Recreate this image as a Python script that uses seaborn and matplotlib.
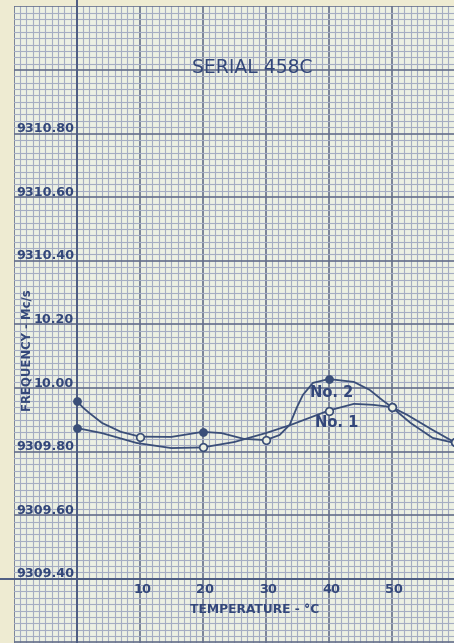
import numpy as np
import pandas as pd
import matplotlib
matplotlib.use("Agg")
import matplotlib.pyplot as plt
import seaborn as sns
from matplotlib.patches import Rectangle

# ---------------- data ----------------
# hand-drawn smooth curves
no1_curve_temp = [0, 4, 9.5, 15, 20, 25, 30, 34, 40, 44, 47, 50, 52.5, 56.5, 60]
no1_curve_freq = [9309.874, 9309.858, 9309.827, 9309.811, 9309.813, 9309.830,
                  9309.858, 9309.884, 9309.929, 9309.950, 9309.947, 9309.940,
                  9309.915, 9309.868, 9309.829]

no2_curve_temp = [0, 1, 2, 4, 7, 10, 15, 20, 23, 26.5, 30, 32.2, 33.8, 34.9, 35.9,
                  37.5, 40, 44, 46.5, 48.5, 50, 53, 56.5, 60]
no2_curve_freq = [9309.959, 9309.938, 9309.921, 9309.890, 9309.862, 9309.847,
                  9309.846, 9309.862, 9309.858, 9309.840, 9309.836, 9309.852,
                  9309.884, 9309.937, 9309.978, 9310.016, 9310.028, 9310.019,
                  9309.994, 9309.962, 9309.940, 9309.890, 9309.843, 9309.827]

# measured points
no1_point_temp = [0, 20, 40, 50, 60]
no1_point_freq = [9309.874, 9309.813, 9309.929, 9309.940, 9309.829]
no1_point_filled = [True, False, False, False, False]

no2_point_temp = [0, 10, 20, 30, 40, 50, 60]
no2_point_freq = [9309.959, 9309.847, 9309.862, 9309.836, 9310.028, 9309.940, 9309.829]
no2_point_filled = [True, False, True, False, True, False, False]

y_tick_values = [9310.80, 9310.60, 9310.40, 9310.20, 9310.00, 9309.80, 9309.60, 9309.40]
y_tick_labels = ["9310.80", "9310.60", "9310.40", "10.20", "10.00",
                 "9309.80", "9309.60", "9309.40"]
x_tick_values = [10, 20, 30, 40, 50]
x_tick_labels = ["10", "20", "30", "40", "50"]

title_text = "SERIAL 458C"
x_label = "TEMPERATURE - °C"
y_label = "FREQUENCY - Mc/s"
series_labels = ["No. 1", "No. 2"]

# ---------------- style ----------------
INK = "#33477a"
LINE = "#3a4e78"
PAPER = "#ecf0e3"
MARGIN = "#eeebd2"
MINOR = "#a5adc3"
MAJOR = "#66708c"

sns.set_theme(style="white")
plt.rcParams["font.family"] = ["DejaVu Sans"]

fig = plt.figure(figsize=(4.54, 6.43), dpi=100)
fig.patch.set_facecolor(MARGIN)
ax = fig.add_axes([0, 0, 1, 1])
ax.set_facecolor(MARGIN)

X0, X1 = -12.2, 59.9
Y0, Y1 = 9309.198, 9311.220

ax.set_xticks(np.arange(-10, 61, 10))
ax.set_xticks(np.arange(-10, 61, 1), minor=True)
ax.set_yticks(np.round(np.arange(9309.2, 9311.201, 0.2), 3))
ax.set_yticks(np.round(np.arange(9309.2, 9311.201, 0.02), 3), minor=True)
ax.set_xlim(X0, X1)
ax.set_ylim(Y0, Y1)

paper = Rectangle((-10, Y0 - 0.1), 75, (9311.20 - Y0) + 0.1,
                  facecolor=PAPER, edgecolor="none", zorder=0)
ax.add_patch(paper)

ax.tick_params(which="both", length=0, labelleft=False, labelbottom=False)
ax.grid(which="minor", color=MINOR, linewidth=0.8)
ax.grid(which="major", color=MAJOR, linewidth=1.2)
ax.set_axisbelow(True)
for axis in (ax.xaxis, ax.yaxis):
    for t in axis.get_major_ticks() + axis.get_minor_ticks():
        t.gridline.set_clip_path(paper)
for s in ax.spines.values():
    s.set_visible(False)

# axis lines (drawn darker on the paper)
ax.axvline(0, color="#4d5c82", lw=1.4, zorder=1)
ax.axhline(9309.40, color="#4d5c82", lw=1.4, zorder=1)

# ---------------- curves ----------------
sns.lineplot(x=no1_curve_temp, y=no1_curve_freq, sort=False, estimator=None,
             color=LINE, lw=1.3, ax=ax, zorder=3)
sns.lineplot(x=no2_curve_temp, y=no2_curve_freq, sort=False, estimator=None,
             color=LINE, lw=1.3, ax=ax, zorder=3)

pts = pd.DataFrame({
    "temp": no1_point_temp + no2_point_temp,
    "freq": no1_point_freq + no2_point_freq,
    "filled": no1_point_filled + no2_point_filled,
})
open_pts = pts[~pts["filled"]]
fill_pts = pts[pts["filled"]]
sns.scatterplot(data=open_pts, x="temp", y="freq", s=30, facecolor=PAPER,
                edgecolor=LINE, linewidth=1.2, ax=ax, zorder=4)
sns.scatterplot(data=fill_pts, x="temp", y="freq", s=28, color=LINE,
                edgecolor=LINE, linewidth=1.0, ax=ax, zorder=4)
ax.set_xlim(X0, X1)
ax.set_ylim(Y0, Y1)

# ---------------- texts ----------------
for v, lab in zip(y_tick_values, y_tick_labels):
    ax.text(-0.4, v + 0.004, lab, ha="right", va="baseline", fontsize=9.2,
            fontweight="bold", color=INK, zorder=5)
for v, lab in zip(x_tick_values, x_tick_labels):
    ax.text(v + 0.4, 9309.365, lab, ha="center", va="center", fontsize=9.3,
            fontweight="bold", color=INK, zorder=5)

ax.text(27.9, 9311.009, title_text, ha="center", va="center", fontsize=13.5,
        color=INK, zorder=5)
ax.text(28.3, 9309.302, x_label, ha="center", va="center", fontsize=8.8,
        fontweight="bold", color=INK, zorder=5)
ax.text(-7.9, 9310.119, y_label, ha="center", va="center", rotation=90,
        fontsize=8.4, fontweight="bold", color=INK, zorder=5)
ax.text(41.3, 9309.890, series_labels[0], ha="center", va="center",
        fontsize=10.5, fontweight="bold", color=INK, zorder=5)
ax.text(40.5, 9309.987, series_labels[1], ha="center", va="center",
        fontsize=10.5, fontweight="bold", color=INK, zorder=5)

fig.savefig("out.png", dpi=100, facecolor=fig.get_facecolor())
